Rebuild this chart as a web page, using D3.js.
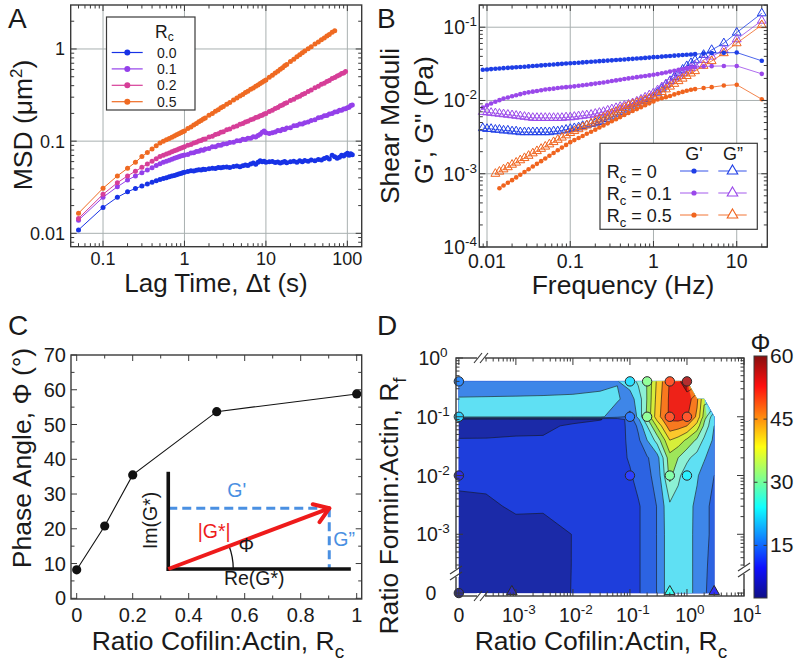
<!DOCTYPE html>
<html>
<head>
<meta charset="utf-8">
<script src="https://cdn.jsdelivr.net/npm/d3@7/dist/d3.min.js"></script>
<style>
html,body{margin:0;padding:0;background:#fff;}
svg{display:block;font-family:"Liberation Sans",Arial,Helvetica,sans-serif;}
</style>
</head>
<body>
<svg id="fig" width="802" height="667" viewBox="0 0 802 667"></svg>
<script>
// ================= DATA =================
// ---- Panel A: MSD vs lag time ----
const lagTime = [0.05,0.1,0.15,0.2,0.25,0.3,0.35,0.4,0.45,0.5,0.55,0.6,0.65,0.7,0.75,0.8,0.85,0.9,0.95,1.0,
 1.1,1.2,1.3,1.4,1.5,1.6,1.7,1.8,2.0,2.2,2.4,2.6,2.8,3.0,3.3,3.6,4.0,4.4,4.8,5.2,5.6,6.0,6.5,7.0,7.5,8.0,8.5,9.0,9.5,10,
 11,12,13,14,15,16,17,18,20,22,24,26,28,30,33,36,40,44,48,52,56,60,65,70,75,80,85,90,95,100,105,110,115];
const msdRc00 = [0.0109,0.0191,0.0246,0.0282,0.0307,0.0326,0.0343,0.0358,0.0371,0.0384,0.0393,0.0402,0.0410,0.0418,0.0425,0.0432,0.0440,0.0447,0.0455,0.0461,
 0.0468,0.0476,0.0474,0.0483,0.0490,0.0487,0.0496,0.0494,0.0503,0.0509,0.0505,0.0517,0.0513,0.0521,0.0525,0.0519,0.0531,0.0536,0.0528,0.0541,0.0552,0.0546,0.0566,0.0578,0.0562,0.0589,0.0612,0.0597,0.0605,0.0590,
 0.0597,0.0602,0.0585,0.0594,0.0578,0.0590,0.0601,0.0583,0.0596,0.0605,0.0589,0.0611,0.0598,0.0617,0.0606,0.0624,0.0612,0.0634,0.0625,0.0648,0.0663,0.0641,0.0702,0.0676,0.0654,0.0668,0.0705,0.0688,0.0715,0.0739,0.0702,0.0731,0.0712];
const msdRc01 = [0.0139,0.0246,0.0320,0.0378,0.0420,0.0455,0.0487,0.0516,0.0545,0.0570,0.0591,0.0606,0.0622,0.0638,0.0651,0.0665,0.0676,0.0688,0.0697,0.0706,
 0.0718,0.0742,0.0749,0.0772,0.0776,0.0801,0.0798,0.0823,0.0834,0.0868,0.0872,0.0903,0.0902,0.0931,0.0935,0.0968,0.0972,0.1008,0.1012,0.1046,0.1039,0.1078,0.1072,0.1115,0.1106,0.1151,0.1190,0.1250,0.1290,0.1230,
 0.1210,0.1236,0.1258,0.1301,0.1296,0.1348,0.1342,0.1391,0.1402,0.1466,0.1475,0.1532,0.1539,0.1588,0.1612,0.1679,0.1712,0.1792,0.1815,0.1889,0.1903,0.1975,0.1992,0.2071,0.2084,0.2158,0.2169,0.2238,0.2243,0.2305,0.2338,0.2432,0.2468];
const msdRc02 = [0.0145,0.0265,0.0354,0.0420,0.0472,0.0520,0.0564,0.0605,0.0643,0.0680,0.0703,0.0725,0.0746,0.0766,0.0785,0.0803,0.0821,0.0838,0.0854,0.0870,
 0.0903,0.0922,0.0955,0.0971,0.1003,0.1016,0.1047,0.1058,0.1108,0.1131,0.1178,0.1203,0.1249,0.1268,0.1328,0.1358,0.1427,0.1462,0.1527,0.1557,0.1617,0.1643,0.1708,0.1741,0.1803,0.1829,0.1887,0.1912,0.1968,0.1992,
 0.2098,0.2165,0.2263,0.2321,0.2418,0.2466,0.2561,0.2603,0.2756,0.2851,0.2996,0.3078,0.3213,0.3287,0.3466,0.3578,0.3795,0.3932,0.4135,0.4253,0.4448,0.4549,0.4771,0.4889,0.5105,0.5208,0.5412,0.5503,0.5698];
const msdRc05 = [0.0165,0.0308,0.0420,0.0507,0.0590,0.0680,0.0753,0.0823,0.0890,0.0955,0.0995,0.1034,0.1070,0.1105,0.1139,0.1171,0.1202,0.1232,0.1262,0.1290,
 0.1368,0.1424,0.1501,0.1551,0.1625,0.1672,0.1741,0.1786,0.1908,0.1998,0.2114,0.2196,0.2302,0.2375,0.2519,0.2626,0.2799,0.2931,0.3092,0.3214,0.3365,0.3476,0.3652,0.3781,0.3951,0.4069,0.4228,0.4343,0.4497,0.4603,
 0.4921,0.5188,0.5496,0.5741,0.6039,0.6268,0.6561,0.6774,0.7303,0.7741,0.8241,0.8641,0.9122,0.9496,1.0088,1.0572,1.1321,1.1928,1.2625,1.3172,1.3851,1.4362,1.5151,1.5750];
const rcLabelsA = ["0.0","0.1","0.2","0.5"];
const colorsA = ["#1732e6","#9440ea","#d63e98","#ef6a22"];
const xTicksA = [0.1,1,10,100];
const yTicksA = [0.01,0.1,1];

// ---- Panel B: shear moduli vs frequency ----
const freq = [0.0089,0.01,0.0112,0.0126,0.0141,0.0158,0.0178,0.02,0.0224,0.0251,0.0282,0.0316,0.0355,0.0398,0.0447,0.0501,0.0562,0.0631,0.0708,0.0794,0.0891,
 0.1,0.112,0.126,0.141,0.158,0.178,0.2,0.224,0.251,0.282,0.316,0.355,0.398,0.447,0.501,0.562,0.631,0.708,0.794,0.891,
 1,1.12,1.26,1.41,1.58,1.78,2,2.24,2.51,2.82,3.16,4,5,7,10,20];
const gp_rc0 = [0.0263,0.0265,0.0268,0.0271,0.0273,0.0276,0.0279,0.0281,0.0284,0.0287,0.0289,0.0292,0.0295,0.0298,0.0301,0.0304,0.0307,0.0310,0.0313,0.0316,0.0319,
 0.0322,0.0325,0.0328,0.0331,0.0334,0.0337,0.0340,0.0344,0.0347,0.0350,0.0353,0.0357,0.0360,0.0363,0.0367,0.0370,0.0374,0.0377,0.0381,0.0385,
 0.0390,0.0393,0.0397,0.0401,0.0405,0.0409,0.0413,0.0417,0.0421,0.0425,0.0429,0.0437,0.0443,0.0447,0.0451,0.0348];
const gpp_rc0 = [0.0042,0.0041,0.0041,0.0040,0.0040,0.0039,0.0039,0.0038,0.0038,0.0037,0.0037,0.0037,0.0037,0.0037,0.0037,0.0037,0.0037,0.0038,0.0038,0.0039,0.0040,
 0.0041,0.0042,0.0043,0.0045,0.0046,0.0048,0.0049,0.0051,0.0053,0.0056,0.0059,0.0062,0.0066,0.0070,0.0075,0.0080,0.0085,0.0091,0.0098,0.0105,
 0.0113,0.0128,0.0145,0.0164,0.0185,0.0209,0.0235,0.0264,0.0295,0.0325,0.0355,0.042,0.049,0.0605,0.0845,0.155];
const gp_rc01 = [0.0080,0.0086,0.0091,0.0096,0.0101,0.0106,0.0110,0.0114,0.0118,0.0122,0.0126,0.0129,0.0132,0.0135,0.0138,0.0141,0.0143,0.0145,0.0148,0.0150,0.0152,
 0.0154,0.0156,0.0159,0.0161,0.0164,0.0167,0.0170,0.0173,0.0176,0.0180,0.0184,0.0188,0.0192,0.0196,0.0200,0.0204,0.0208,0.0212,0.0216,0.0220,
 0.0224,0.0229,0.0235,0.0241,0.0248,0.0255,0.0262,0.0269,0.0276,0.0282,0.0287,0.0292,0.0294,0.0296,0.0296,0.0231];
const gpp_rc01 = [0.0070,0.0069,0.0068,0.0067,0.0066,0.0065,0.0064,0.0063,0.0062,0.0061,0.0060,0.0059,0.0058,0.0058,0.0058,0.0058,0.0058,0.0058,0.0058,0.0058,0.0059,
 0.0059,0.0060,0.0061,0.0062,0.0063,0.0064,0.0066,0.0068,0.0070,0.0073,0.0076,0.0079,0.0082,0.0085,0.0088,0.0092,0.0097,0.0103,0.0110,0.0118,
 0.0126,0.0138,0.0152,0.0167,0.0183,0.0200,0.0218,0.0236,0.0255,0.0277,0.0300,0.0358,0.0398,0.049,0.0686,0.123];
const gp_rc05 = [null,null,null,null,0.000634,0.00069,0.000752,0.000818,0.000891,0.00097,0.001056,0.00115,0.001253,0.001364,0.001485,0.001617,0.001761,0.001918,0.002088,0.002274,0.002476,
 0.0027,0.00288,0.00308,0.00328,0.00351,0.00375,0.0040,0.00427,0.00456,0.00487,0.0052,0.00555,0.00593,0.00633,0.00676,0.00718,0.00763,0.0081,0.0086,0.00914,
 0.0097,0.0103,0.0107,0.0111,0.0115,0.0121,0.0126,0.0131,0.0136,0.0140,0.0143,0.0148,0.0152,0.0160,0.0164,0.0104];
const gpp_rc05 = [null,null,null,0.0010,0.00107,0.00115,0.00123,0.00133,0.00142,0.00153,0.00164,0.00176,0.0019,0.00204,0.00219,0.00235,0.00252,0.00271,0.00291,0.00312,0.00335,
 0.0036,0.00383,0.00406,0.00432,0.00459,0.00488,0.00519,0.00551,0.00586,0.00623,0.00662,0.00703,0.00748,0.00795,0.00845,0.00886,0.00929,0.00973,0.0102,0.0107,
 0.0112,0.0121,0.0131,0.0142,0.0155,0.0169,0.0184,0.0199,0.0216,0.0234,0.0252,0.0298,0.0345,0.0443,0.0605,0.107];
const rcLabelsB = ["0","0.1","0.5"];
const colorsB = ["#1e3ee6","#9a48ea","#f0641e"];
const xTicksB = [0.01,0.1,1,10];
const yTicksB = [1e-4,1e-3,1e-2,1e-1];

// ---- Panel C: phase angle vs cofilin ratio ----
const ratioC = [0,0.1,0.2,0.5,1];
const phaseC = [8.2,20.8,35.5,53.7,58.8];
const xTicksC = [0,0.2,0.4,0.6,0.8,1];
const yTicksC = [0,10,20,30,40,50,60,70];
// inset (vector diagram) anchor points, in panel-C data units
const insetOrigin = [0.327, 8.43], insetTip = [0.902, 25.9], insetAxisTop = 36.4, insetAxisEnd = 0.979;

// ---- Panel D: phase angle map (Rc vs Rf), 0 drawn at 1e-4 ----
const gridRc = [0,3e-4,1e-3,3e-3,0.01,0.03,0.06,0.1,0.14,0.2,0.3,0.5,0.7,1,1.5,2,3];
const gridRf = [0.4,0.2,0.1,0.09,0.07,0.04,0.02,0.01,0.003,0.001,3e-4,0];
const gridPhi = [
 [16,16.2,16.5,16.8,17.3,18.5,19.8,22,26,30.2,41,50.5,54,58,null,null,null],
 [20.5,20.6,20.7,20.8,21,21.2,20.6,18,22,30.3,42,51,52,53,46,36,null],
 [21,21,21,21,21,21,17,13.5,21.5,31,43,51,52,50.5,44,33,21],
 [4.0,4.0,4.1,4.2,4.4,4.8,6.5,12.5,19,29,41,50.5,51,49.5,42,31,20.5],
 [4.3,4.4,4.5,4.6,5.3,6.5,7.5,11.5,16,25,36,48,47,45,38,29,20],
 [5.1,5.1,5.2,5.2,6.0,7.0,8.0,11,14,20,27,40,38,34,29,24,19],
 [6.0,6.0,6.2,6.3,6.5,7.2,8.3,10.5,12.5,14.5,18,33,30,26,23,20.5,17],
 [6.5,6.5,6.8,6.8,7.0,7.5,8.5,9.5,11.5,14,16.5,31.5,26,22.5,20.5,18,15],
 [3.5,4.0,5.8,5.6,6.0,7.0,7.5,8.0,9.5,12,15.2,24,23,21.5,19,16,14],
 [3.2,3.5,3.0,3.2,5.1,6.5,7.2,7.8,9.5,12,15.2,23.5,22.5,21.3,19,16,14],
 [3.0,3.3,3.5,3.3,5.1,6.4,7.0,7.6,9.5,12,15.2,23.5,22.5,21.3,19,16,13],
 [3.0,3.5,4.5,3.8,5.1,6.3,7.0,7.5,9.5,12,15.2,23.5,22.5,21.3,19,16,11.5]
];
const contourLevels = [0,5,10,15,20,25,30,35,40,45,50,55];
const bandColors = ["#1b2aa8","#1e3edc","#2c63e2","#3e86e8","#5fe0f3","#8cf0d4","#9ee65a","#d6ee3a","#fcc82c","#f8791f","#ee2218","#a01010"];
const ptRc  = [0,0.1,0.2,0.5,1, 0,0.1,0.2,0.5,1, 0,0.1,0.5,1, 0];
const ptRf  = [0.4,0.4,0.4,0.4,0.4, 0.1,0.1,0.1,0.1,0.1, 0.01,0.01,0.01,0.01, 0];
const ptPhi = [16,22,31,50,58, 21,15,31,50,50, 8,11,30,23, 3];
const triRc = [0.00085,0.5,3];
const triRf = [0,0,0];
const triPhi = [5,25,9];
const cbTicks = [15,30,45,60];

// ================= DRAWING =================
const svg = d3.select("#fig");
const FRAME = "#3a3a3a", GRID = "#a9b0b0", INK = "#1a1a1a";
const defs = svg.append("defs");

function rich(g, x, y, parts, size, anchor, fill, rotate) {
  const t = g.append("text").attr("font-size", size).attr("text-anchor", anchor || "start").attr("fill", fill || INK);
  if (rotate) t.attr("transform", `translate(${x},${y}) rotate(${rotate})`);
  else t.attr("x", x).attr("y", y);
  parts.forEach(p => {
    const s = t.append("tspan").text(p.t);
    if (p.size) s.attr("font-size", p.size);
    if (p.dy) s.attr("dy", p.dy);
  });
  return t;
}
function logMinor(lo, hi) {
  const out = [];
  for (let e = Math.floor(Math.log10(lo)); e <= Math.ceil(Math.log10(hi)); e++) {
    for (let k = 2; k <= 9; k++) { const v = +(k * Math.pow(10, e)).toPrecision(6); if (v > lo && v < hi) out.push(v); }
  }
  return out;
}
function ticks(g, box, xs, ys, xMaj, xMin, yMaj, yMin, LM, Lm) {
  const t = g.append("g").attr("stroke", FRAME).attr("stroke-width", 1);
  const ln = (x1,y1,x2,y2) => t.append("line").attr("x1",x1).attr("y1",y1).attr("x2",x2).attr("y2",y2);
  [[xMaj,LM],[xMin,Lm]].forEach(([vals,L]) => vals.forEach(v => { const x = xs(v); ln(x,box.y1,x,box.y1-L); ln(x,box.y0,x,box.y0+L); }));
  [[yMaj,LM],[yMin,Lm]].forEach(([vals,L]) => vals.forEach(v => { const y = ys(v); ln(box.x0,y,box.x0+L,y); ln(box.x1,y,box.x1-L,y); }));
}
function frame(g, box) {
  g.append("rect").attr("x",box.x0).attr("y",box.y0).attr("width",box.x1-box.x0).attr("height",box.y1-box.y0)
   .attr("fill","none").attr("stroke",FRAME).attr("stroke-width",1.4);
}
function panelLetter(x, y, s) { svg.append("text").attr("x",x).attr("y",y).attr("font-size",28).attr("fill",INK).text(s); }

// ---------- Panel A ----------
(function(){
  const box = {x0:70.7, x1:361.7, y0:5, y1:246.7};
  const xs = d3.scaleLog().domain([0.0401,150]).range([box.x0,box.x1]);
  const ys = d3.scaleLog().domain([0.00716,3.0]).range([box.y1,box.y0]);
  const g = svg.append("g");
  g.append("g").selectAll("line").data(xTicksA).join("line").attr("x1",xs).attr("x2",xs).attr("y1",box.y0).attr("y2",box.y1).attr("stroke",GRID).attr("stroke-width",1);
  g.append("g").selectAll("line").data(yTicksA).join("line").attr("y1",ys).attr("y2",ys).attr("x1",box.x0).attr("x2",box.x1).attr("stroke",GRID).attr("stroke-width",1);
  const series = [msdRc00, msdRc01, msdRc02, msdRc05];
  series.forEach((vals, si) => {
    const pts = vals.map((v,i) => [lagTime[i], v]);
    g.append("path").attr("d", d3.line().x(d=>xs(d[0])).y(d=>ys(d[1]))(pts)).attr("fill","none").attr("stroke",colorsA[si]).attr("stroke-width",1);
    g.append("g").selectAll("circle").data(pts).join("circle").attr("cx",d=>xs(d[0])).attr("cy",d=>ys(d[1])).attr("r",2.5).attr("fill",colorsA[si]);
  });
  // legend
  const lg = g.append("g");
  lg.append("rect").attr("x",106.5).attr("y",17).attr("width",88.5).attr("height",93).attr("fill","#fff").attr("stroke",FRAME).attr("stroke-width",1.2);
  rich(lg, 155, 37.5, [{t:"R"},{t:"c",size:12,dy:3}], 17.5);
  rcLabelsA.forEach((lab,i) => {
    const cy = 52.5 + i*16.4;
    lg.append("line").attr("x1",111.7).attr("x2",142.7).attr("y1",cy).attr("y2",cy).attr("stroke",colorsA[i]).attr("stroke-width",1.2);
    lg.append("circle").attr("cx",127.3).attr("cy",cy).attr("r",3).attr("fill",colorsA[i]);
    lg.append("text").attr("x",157).attr("y",cy+5).attr("font-size",14).attr("fill",INK).text(lab);
  });
  frame(g, box);
  ticks(g, box, xs, ys, xTicksA, logMinor(0.0401,150), yTicksA, logMinor(0.00716,3.0), 6, 3.5);
  xTicksA.forEach(v => g.append("text").attr("x",xs(v)).attr("y",265).attr("text-anchor","middle").attr("font-size",18).attr("fill",INK).text(String(v)));
  yTicksA.forEach(v => g.append("text").attr("x",65).attr("y",ys(v)+6.5).attr("text-anchor","end").attr("font-size",18).attr("fill",INK).text(String(v)));
  rich(g, 216, 292, [{t:"Lag Time, \u0394t (s)"}], 26, "middle");
  rich(g, 32, 125, [{t:"MSD (\u03bcm"},{t:"2",size:17,dy:-10},{t:")",dy:10}], 26.5, "middle", INK, -90);
})();
panelLetter(8, 28, "A");

// ---------- Panel B ----------
(function(){
  const box = {x0:479.3, x1:767.3, y0:5, y1:247};
  const xs = d3.scaleLog().domain([0.00808,23.3]).range([box.x0,box.x1]);
  const ys = d3.scaleLog().domain([1e-4,0.201]).range([box.y1,box.y0]);
  const g = svg.append("g");
  g.append("g").selectAll("line").data(xTicksB).join("line").attr("x1",xs).attr("x2",xs).attr("y1",box.y0).attr("y2",box.y1).attr("stroke",GRID).attr("stroke-width",1);
  g.append("g").selectAll("line").data(yTicksB).join("line").attr("y1",ys).attr("y2",ys).attr("x1",box.x0).attr("x2",box.x1).attr("stroke",GRID).attr("stroke-width",1);
  const tri = d3.symbol().type(d3.symbolTriangle).size(34);
  const gpp = [gpp_rc0, gpp_rc01, gpp_rc05], gp = [gp_rc0, gp_rc01, gp_rc05];
  const line = d3.line().x(d=>xs(d[0])).y(d=>ys(d[1]));
  [0,1,2].forEach(si => {
    const pts = gpp[si].map((v,i)=>[freq[i],v]).filter(d=>d[1]!=null);
    g.append("path").attr("d",line(pts)).attr("fill","none").attr("stroke",colorsB[si]).attr("stroke-width",0.8);
    g.append("g").selectAll("path").data(pts).join("path").attr("d",tri).attr("transform",d=>`translate(${xs(d[0])},${ys(d[1])})`)
      .attr("fill","none").attr("stroke",colorsB[si]).attr("stroke-width",1);
  });
  [0,1,2].forEach(si => {
    const pts = gp[si].map((v,i)=>[freq[i],v]).filter(d=>d[1]!=null);
    g.append("path").attr("d",line(pts)).attr("fill","none").attr("stroke",colorsB[si]).attr("stroke-width",0.8);
    g.append("g").selectAll("circle").data(pts).join("circle").attr("cx",d=>xs(d[0])).attr("cy",d=>ys(d[1])).attr("r",2.3).attr("fill",colorsB[si]);
  });
  // legend
  const lg = g.append("g");
  lg.append("rect").attr("x",600).attr("y",143.3).attr("width",157.3).attr("height",86).attr("fill","#fff").attr("stroke",FRAME).attr("stroke-width",1.2);
  lg.append("text").attr("x",694).attr("y",160).attr("text-anchor","middle").attr("font-size",18).attr("fill",INK).text("G'");
  lg.append("text").attr("x",733).attr("y",160).attr("text-anchor","middle").attr("font-size",18).attr("fill",INK).text("G\u201d");
  rcLabelsB.forEach((lab,i) => {
    const cy = [171,193,215][i];
    rich(lg, 606.7, cy+6.5, [{t:"R"},{t:"c",size:13,dy:5},{t:" = "+lab,dy:-5}], 18);
    lg.append("line").attr("x1",680).attr("x2",708.3).attr("y1",cy).attr("y2",cy).attr("stroke",colorsB[i]).attr("stroke-width",0.9);
    lg.append("circle").attr("cx",694).attr("cy",cy).attr("r",2.6).attr("fill",colorsB[i]);
    lg.append("line").attr("x1",718.3).attr("x2",746.7).attr("y1",cy).attr("y2",cy).attr("stroke",colorsB[i]).attr("stroke-width",0.9);
    lg.append("path").attr("d",d3.symbol().type(d3.symbolTriangle).size(48)).attr("transform",`translate(732.5,${cy})`)
      .attr("fill","#fff").attr("stroke",colorsB[i]).attr("stroke-width",1.1);
  });
  frame(g, box);
  ticks(g, box, xs, ys, xTicksB, logMinor(0.00808,23.3), yTicksB, logMinor(1e-4,0.201), 6, 3.5);
  xTicksB.forEach(v => g.append("text").attr("x",xs(v)).attr("y",268).attr("text-anchor","middle").attr("font-size",19.5).attr("fill",INK).text(String(v)));
  yTicksB.forEach(v => rich(g, 477, ys(v)+7, [{t:"10"},{t:String(Math.round(Math.log10(v))),size:13.5,dy:-8}], 19.5, "end"));
  rich(g, 623, 294, [{t:"Frequency (Hz)"}], 26.5, "middle");
  rich(g, 399, 126, [{t:"Shear Moduli"}], 26.5, "middle", INK, -90);
  rich(g, 433, 120, [{t:"G', G\" (Pa)"}], 26.5, "middle", INK, -90);
})();
panelLetter(377, 28, "B");

// ---------- Panel C ----------
(function(){
  const box = {x0:71, x1:361.7, y0:355, y1:599};
  const xs = d3.scaleLinear().domain([0,1]).range([76.7,356.7]);
  const ys = d3.scaleLinear().domain([0,70]).range([598.3,355]);
  const g = svg.append("g");
  // inset
  const ox = xs(insetOrigin[0]), oy = ys(insetOrigin[1]), tx = xs(insetTip[0]), ty = ys(insetTip[1]);
  const blue = "#4a90e2", red = "#ee1b1b";
  g.append("line").attr("x1",ox).attr("y1",ty).attr("x2",tx).attr("y2",ty).attr("stroke",blue).attr("stroke-width",3).attr("stroke-dasharray","9,5");
  g.append("line").attr("x1",tx).attr("y1",ty).attr("x2",tx).attr("y2",oy).attr("stroke",blue).attr("stroke-width",3).attr("stroke-dasharray","9,5");
  g.append("line").attr("x1",ox).attr("y1",oy+2).attr("x2",ox).attr("y2",ys(insetAxisTop)).attr("stroke","#111").attr("stroke-width",3.6);
  g.append("line").attr("x1",ox-1.5).attr("y1",oy).attr("x2",xs(insetAxisEnd)).attr("y2",oy).attr("stroke","#111").attr("stroke-width",3.6);
  const ang = Math.atan2(oy-ty, tx-ox);
  const R = 65;
  g.append("path").attr("d",`M${ox+R},${oy} A${R},${R} 0 0 0 ${ox+R*Math.cos(ang)},${oy-R*Math.sin(ang)}`).attr("fill","none").attr("stroke","#111").attr("stroke-width",1.3);
  g.append("line").attr("x1",ox).attr("y1",oy).attr("x2",tx-2).attr("y2",ty+0.8).attr("stroke",red).attr("stroke-width",4);
  const hl = 17, ha = 0.6;
  [ang+ha, ang-ha].forEach(a => {
    g.append("line").attr("x1",tx).attr("y1",ty).attr("x2",tx-hl*Math.cos(a)).attr("y2",ty+hl*Math.sin(a)).attr("stroke",red).attr("stroke-width",4).attr("stroke-linecap","round");
  });
  g.append("text").attr("x",ox+0.425*(tx-ox)).attr("y",ty-11.5).attr("text-anchor","middle").attr("font-size",19.5).attr("fill",blue).text("G'");
  g.append("text").attr("x",tx+4).attr("y",(ty+oy)/2+7).attr("font-size",19.5).attr("fill",blue).text("G\u201d");
  g.append("text").attr("x",ox+0.285*(tx-ox)).attr("y",538.3).attr("text-anchor","middle").attr("font-size",19.5).attr("fill",red).text("|G*|");
  g.append("text").attr("x",ox+78).attr("y",oy-17).attr("text-anchor","middle").attr("font-size",19.5).attr("fill",INK).text("\u03a6");
  g.append("text").attr("x",ox+86).attr("y",oy+16).attr("text-anchor","middle").attr("font-size",19.5).attr("fill",INK).text("Re(G*)");
  rich(g, ox-11, (oy+ys(insetAxisTop))/2, [{t:"Im(G*)"}], 19.5, "middle", INK, -90);
  // data
  const pts = ratioC.map((v,i)=>[v,phaseC[i]]);
  g.append("path").attr("d",d3.line().x(d=>xs(d[0])).y(d=>ys(d[1]))(pts)).attr("fill","none").attr("stroke","#111").attr("stroke-width",1.1);
  g.append("g").selectAll("circle").data(pts).join("circle").attr("cx",d=>xs(d[0])).attr("cy",d=>ys(d[1])).attr("r",4.6).attr("fill","#111");
  frame(g, box);
  ticks(g, box, xs, ys, xTicksC, d3.range(0.1,1,0.2), yTicksC, d3.range(5,70,10), 6, 3.5);
  xTicksC.forEach(v => g.append("text").attr("x",xs(v)).attr("y",622).attr("text-anchor","middle").attr("font-size",20).attr("fill",INK).text(String(v)));
  yTicksC.forEach(v => g.append("text").attr("x",66).attr("y",ys(v)+7).attr("text-anchor","end").attr("font-size",20).attr("fill",INK).text(String(v)));
  rich(g, 218, 650, [{t:"Ratio Cofilin:Actin, R"},{t:"c",size:19,dy:8}], 26.5, "middle");
  rich(g, 31, 458, [{t:"Phase Angle, \u03a6 (\u00b0)"}], 26.5, "middle", INK, -90);
})();
panelLetter(8, 335, "C");

// ---------- Panel D ----------
function jet(t) {
  t = Math.max(0, Math.min(1, t));
  const c = v => Math.max(0, Math.min(1, v));
  return d3.rgb(255*c(1.5-Math.abs(4*t-3)), 255*c(1.5-Math.abs(4*t-2)), 255*c(1.5-Math.abs(4*t-1)));
}
(function(){
  const box = {x0:456, x1:744, y0:358, y1:596};
  const xlog = d3.scaleLog().domain([Math.pow(10,-4.05),10]).range([box.x0,box.x1]);
  const ylog = d3.scaleLog().domain([Math.pow(10,-4.05),1]).range([box.y1,box.y0]);
  const xs = v => xlog(v === 0 ? 1e-4 : v);
  const ys = v => ylog(v === 0 ? 1e-4 : v);
  const g = svg.append("g");
  const nC = gridRc.length, nR = gridRf.length;
  const gx = gridRc.map(xs), gy = gridRf.map(ys);
  function idx(arr, c, clamp) {
    let i = c - 0.5; const n = arr.length;
    if (clamp) i = Math.max(0, Math.min(n-1, i));
    if (i <= 0) return arr[0] + i*(arr[1]-arr[0]);
    if (i >= n-1) return arr[n-1] + (i-(n-1))*(arr[n-1]-arr[n-2]);
    const k = Math.floor(i), f = i-k; return arr[k] + f*(arr[k+1]-arr[k]);
  }
  const mkPath = clamp => d3.geoPath(d3.geoTransform({point(x,y){ this.stream.point(idx(gx,x,clamp), idx(gy,y,clamp)); }}));
  const pFill = mkPath(true), pLine = mkPath(false);
  const fillVals = gridPhi.flat().map(v => v == null ? -1e6 : v);
  const bands = d3.contours().size([nC,nR]).thresholds(contourLevels)(fillVals);
  const bandColor = d3.scaleOrdinal().domain(contourLevels).range(bandColors);
  g.append("g").selectAll("path").data(bands).join("path").attr("d",pFill).attr("fill",d=>bandColor(d.value)).attr("stroke",d=>bandColor(d.value)).attr("stroke-width",0.3);
  defs.append("clipPath").attr("id","dclip").append("path").attr("d", pFill(bands[0]));
  const lineVals = gridPhi.map(row => { const r = row.slice(); for (let i=0;i<r.length;i++) if (r[i]==null) r[i]=r[i-1]; return r; }).flat();
  const iso = d3.contours().size([nC,nR]).thresholds(contourLevels.slice(1))(lineVals);
  g.append("g").attr("clip-path","url(#dclip)").selectAll("path").data(iso).join("path").attr("d",pLine)
    .attr("fill","none").attr("stroke","#151515").attr("stroke-width",0.75).attr("stroke-opacity",0.8);
  // points
  const ptColor = v => d3.interpolateRgb(jet((v-2.5)/57.5), "#ffffff")(0.18);
  const pts = ptRc.map((v,i)=>({x:v, y:ptRf[i], p:ptPhi[i]}));
  g.append("g").selectAll("circle").data(pts).join("circle").attr("cx",d=>xs(d.x)).attr("cy",d=>ys(d.y)).attr("r",4.7)
    .attr("fill",d=>ptColor(d.p)).attr("stroke","#2a2a2a").attr("stroke-width",1);
  const tris = triRc.map((v,i)=>({x:v, y:triRf[i], p:triPhi[i]}));
  g.append("g").selectAll("path").data(tris).join("path").attr("d",d3.symbol().type(d3.symbolTriangle).size(48))
    .attr("transform",d=>`translate(${xs(d.x)},${ys(d.y)-1.5})`).attr("fill",d=>ptColor(d.p)).attr("stroke","#2a2a2a").attr("stroke-width",1);
  frame(g, box);
  const xMaj = [0,1e-3,1e-2,1e-1,1,10], yMaj = [0,1e-3,1e-2,1e-1,1];
  const xMin = logMinor(2.7e-4, 10), yMin = logMinor(2.5e-4, 1);
  ticks(g, box, xs, ys, xMaj, xMin, yMaj, yMin, 7, 3.5);
  // axis breaks
  const brk = (cx, cy, horiz) => {
    if (horiz) {
      g.append("rect").attr("x",cx-4).attr("y",cy-3).attr("width",8).attr("height",6).attr("fill","#fff");
      [-3,3].forEach(o => g.append("line").attr("x1",cx+o-4).attr("y1",cy+5).attr("x2",cx+o+4).attr("y2",cy-5).attr("stroke",FRAME).attr("stroke-width",1.2));
    } else {
      g.append("rect").attr("x",cx-3).attr("y",cy-4).attr("width",6).attr("height",8).attr("fill","#fff");
      [-3,3].forEach(o => g.append("line").attr("x1",cx-6).attr("y1",cy+o+4).attr("x2",cx+6).attr("y2",cy+o-4).attr("stroke",FRAME).attr("stroke-width",1.2));
    }
  };
  brk(481, box.y0, true); brk(481, box.y1, true); brk(box.x0, 573, false); brk(box.x1, 570, false);
  xMaj.forEach(v => {
    const x = xs(v);
    if (v === 0) g.append("text").attr("x",x).attr("y",622).attr("text-anchor","middle").attr("font-size",19.5).attr("fill",INK).text("0");
    else rich(g, x+3, 622, [{t:"10"},{t:String(Math.round(Math.log10(v))),size:13.5,dy:-8}], 19.5, "middle");
  });
  yMaj.forEach(v => {
    const y = ys(v)+7;
    if (v === 0) g.append("text").attr("x",431).attr("y",y).attr("text-anchor","middle").attr("font-size",19.5).attr("fill",INK).text("0");
    else rich(g, 433, y, [{t:"10"},{t:String(Math.round(Math.log10(v))),size:13.5,dy:-8}], 19.5, "middle");
  });
  rich(g, 601, 650, [{t:"Ratio Cofilin:Actin, R"},{t:"c",size:19,dy:8}], 26.5, "middle");
  rich(g, 398, 506, [{t:"Ratio Formin:Actin, R"},{t:"f",size:19,dy:8}], 26.5, "middle", INK, -90);
  // colorbar
  const cb = {x0:754, x1:767, y0:356, y1:598};
  const cbs = d3.scaleLinear().domain([2.5,60]).range([cb.y1,cb.y0]);
  const grad = defs.append("linearGradient").attr("id","cbgrad").attr("x1",0).attr("y1",1).attr("x2",0).attr("y2",0);
  d3.range(0,1.0001,0.025).forEach(t => grad.append("stop").attr("offset",t).attr("stop-color", d3.interpolateRgb(jet(t),"#fff")(0.06)));
  g.append("rect").attr("x",cb.x0).attr("y",cb.y0).attr("width",cb.x1-cb.x0).attr("height",cb.y1-cb.y0).attr("fill","url(#cbgrad)").attr("stroke",FRAME).attr("stroke-width",1);
  cbTicks.forEach(v => {
    const y = cbs(v);
    if (v < 60) {
      g.append("line").attr("x1",cb.x0).attr("x2",cb.x0+3.5).attr("y1",y).attr("y2",y).attr("stroke",FRAME);
      g.append("line").attr("x1",cb.x1).attr("x2",cb.x1-3.5).attr("y1",y).attr("y2",y).attr("stroke",FRAME);
    }
    g.append("text").attr("x",770).attr("y",y+7).attr("font-size",21).attr("fill",INK).text(String(v));
  });
  g.append("text").attr("x",760.5).attr("y",352).attr("text-anchor","middle").attr("font-size",25).attr("fill",INK).text("\u03a6");
})();
panelLetter(377, 335, "D");
</script>
</body>
</html>
